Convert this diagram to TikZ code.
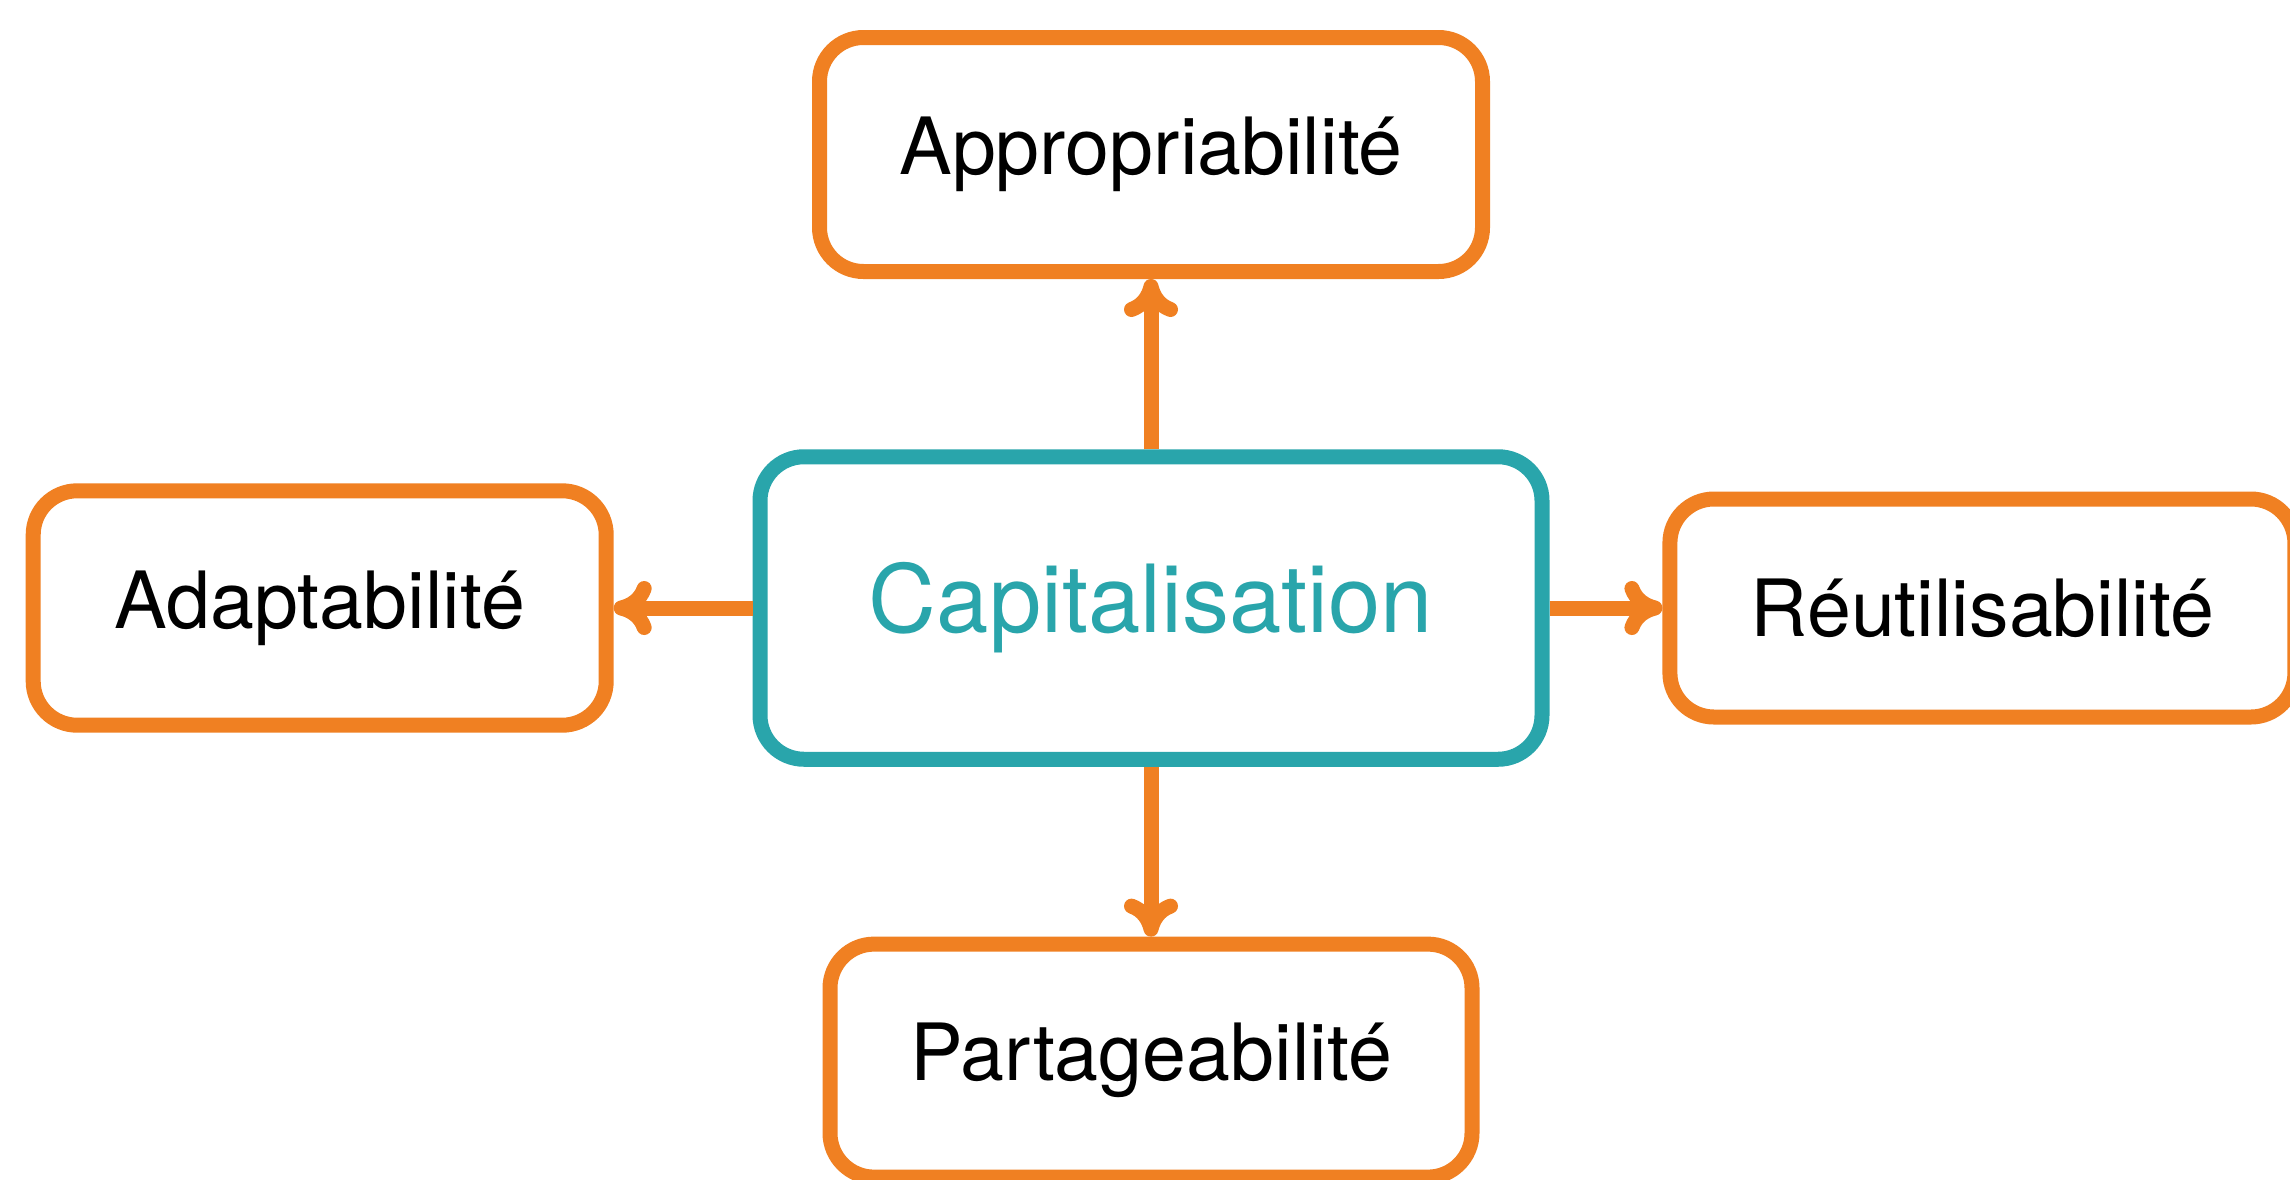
\documentclass[tikz,border=0pt]{standalone}
\usepackage{fontspec}
\setmainfont{TeX Gyre Heros}
\usetikzlibrary{arrows.meta}
\definecolor{orng}{RGB}{240,128,34}
\definecolor{tealc}{RGB}{41,165,171}
\begin{document}
\begin{tikzpicture}[x=0.5pt,y=-0.5pt,
  box/.style={draw=orng, line width=7.5pt, rounded corners=22pt, fill=white, inner sep=0pt, font=\fontsize{39.5pt}{47pt}\selectfont, text=black},
  mainbox/.style={box, draw=tealc, text=tealc, font=\fontsize{47pt}{56pt}\selectfont},
  link/.style={draw=orng, line width=7.5pt, -{Computer Modern Rightarrow[length=19pt,width=27pt,round]}}]
\useasboundingbox[fill=white] (0,0) rectangle (2290,1179);
\node[box, minimum width=331.5pt, minimum height=117pt] (t) at (1151,154.5) {Appropriabilité};
\node[mainbox, minimum width=391pt, minimum height=151.25pt] (c) at (1151,608) {Capitalisation};
\node[box, minimum width=286.5pt, minimum height=117.2pt] (l) at (319.7,608) {Adaptabilité};
\node[box, minimum width=312.5pt, minimum height=109pt] (r) at (1982.4,608) {Réutilisabilité};
\node[box, minimum width=321pt, minimum height=116.5pt] (b) at (1151,1060.6) {Partageabilité};
\draw[link] (c.north) -- (t.south);
\draw[link] (c.south) -- (b.north);
\draw[link] (c.west) -- (l.east);
\draw[link] (c.east) -- (r.west);
\end{tikzpicture}
\end{document}
